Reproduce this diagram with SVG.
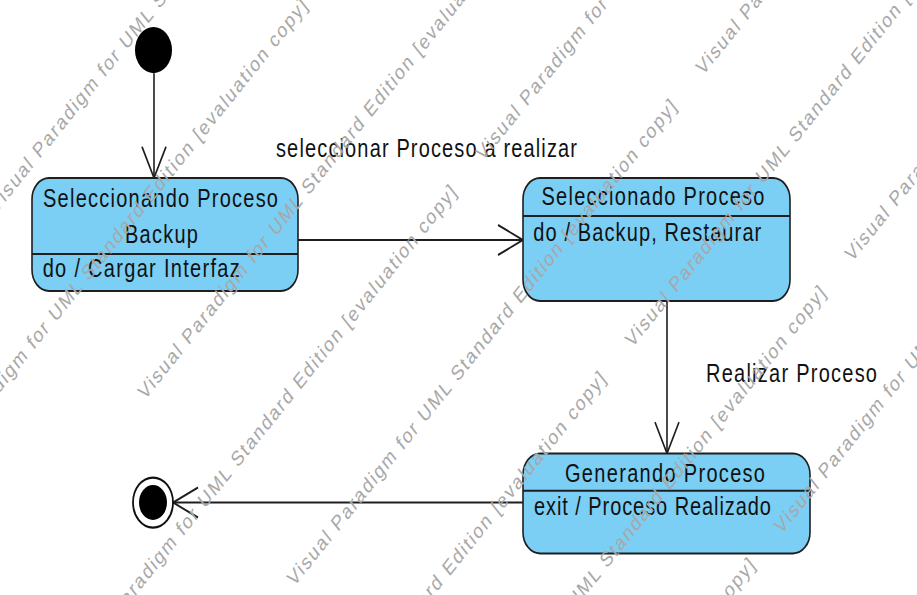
<svg xmlns="http://www.w3.org/2000/svg" width="917" height="595" viewBox="0 0 917 595">
<defs>
<style>
.st{fill:#7bcef4;stroke:#1e1e1e;stroke-width:1.6}
.dv{stroke:#1e1e1e;stroke-width:1.6}
.t{font-family:"Liberation Sans",Arial,sans-serif;font-size:20px;fill:#111}
.c{text-anchor:middle}
.edge{fill:none;stroke:#1e1e1e;stroke-width:1.6}
.wm{font-family:"Liberation Sans",Arial,sans-serif;font-size:17px;fill:#a8a8a8}
</style>
<marker id="open" viewBox="0 0 30 30" refX="27" refY="15" markerWidth="30" markerHeight="30" orient="auto" markerUnits="userSpaceOnUse"><path d="M2,3 L27,15 L2,27" fill="none" stroke="#1e1e1e" stroke-width="1.6"/></marker>
</defs>
<rect width="917" height="595" fill="#fff"/>
<g transform="scale(1,1.25)">
<g id="connectors">
<path class="edge" d="M154,58.5 V142.4" marker-end="url(#open)"/>
<path class="edge" d="M298,192 H523" marker-end="url(#open)"/>
<path class="edge" d="M667,240.8 V362.7" marker-end="url(#open)"/>
<path class="edge" d="M523,402 H173" marker-end="url(#open)"/>
<text class="t" x="276" y="125.3" textLength="301">seleccionar Proceso a realizar</text>
<text class="t" x="706" y="305.3" textLength="171">Realizar Proceso</text>
</g>
<g id="initial"><circle cx="153.5" cy="40" r="18.5" fill="#000"/></g>
<g id="state-seleccionando">
<rect class="st" x="32" y="142.4" width="266" height="90.4" rx="17"/>
<line class="dv" x1="32" y1="203.2" x2="298" y2="203.2"/>
<text class="t c" x="160.5" y="165.6" textLength="235">Seleccionando Proceso</text>
<text class="t c" x="161.5" y="194.7" textLength="73">Backup</text>
<text class="t" x="42.7" y="221.3" textLength="197">do / Cargar Interfaz</text>
</g>
<g id="state-seleccionado">
<rect class="st" x="523" y="142.4" width="267" height="98.4" rx="17"/>
<line class="dv" x1="523" y1="172.8" x2="790" y2="172.8"/>
<text class="t c" x="653" y="164" textLength="223">Seleccionado Proceso</text>
<text class="t" x="533.3" y="192.5" textLength="228">do / Backup, Restaurar</text>
</g>
<g id="state-generando">
<rect class="st" x="523" y="362.7" width="287" height="80" rx="17"/>
<line class="dv" x1="523" y1="392.5" x2="810" y2="392.5"/>
<text class="t c" x="665" y="385.3" textLength="200">Generando Proceso</text>
<text class="t" x="534" y="412" textLength="237">exit / Proceso Realizado</text>
</g>
<g id="final">
<circle cx="153" cy="402" r="20" fill="#fff" stroke="#111" stroke-width="1.8"/>
<circle cx="153" cy="402" r="14" fill="#000"/>
</g>
<g id="watermark" class="wm">
<text transform="translate(-4.2 171.1) rotate(-45)" textLength="542">Visual Paradigm for UML Standard Edition [evaluation copy]</text>
<text transform="translate(145 320.3) rotate(-45)" textLength="542">Visual Paradigm for UML Standard Edition [evaluation copy]</text>
<text transform="translate(294.2 469.5) rotate(-45)" textLength="542">Visual Paradigm for UML Standard Edition [evaluation copy]</text>
<text transform="translate(443.4 618.7) rotate(-45)" textLength="542">Visual Paradigm for UML Standard Edition [evaluation copy]</text>
<text transform="translate(702.9 60.8) rotate(-45)" textLength="542">Visual Paradigm for UML Standard Edition [evaluation copy]</text>
<text transform="translate(852.1 210) rotate(-45)" textLength="542">Visual Paradigm for UML Standard Edition [evaluation copy]</text>
<text transform="translate(-75 388.9) rotate(-45)" textLength="542">Visual Paradigm for UML Standard Edition [evaluation copy]</text>
<text transform="translate(74.2 538.1) rotate(-45)" textLength="542">Visual Paradigm for UML Standard Edition [evaluation copy]</text>
<text transform="translate(223.4 687.3) rotate(-45)" textLength="542">Visual Paradigm for UML Standard Edition [evaluation copy]</text>
<text transform="translate(372.6 836.5) rotate(-45)" textLength="542">Visual Paradigm for UML Standard Edition [evaluation copy]</text>
<text transform="translate(483 129.4) rotate(-45)" textLength="542">Visual Paradigm for UML Standard Edition [evaluation copy]</text>
<text transform="translate(632.2 278.6) rotate(-45)" textLength="542">Visual Paradigm for UML Standard Edition [evaluation copy]</text>
<text transform="translate(781.4 427.8) rotate(-45)" textLength="542">Visual Paradigm for UML Standard Edition [evaluation copy]</text>
</g>
</g>
</svg>
